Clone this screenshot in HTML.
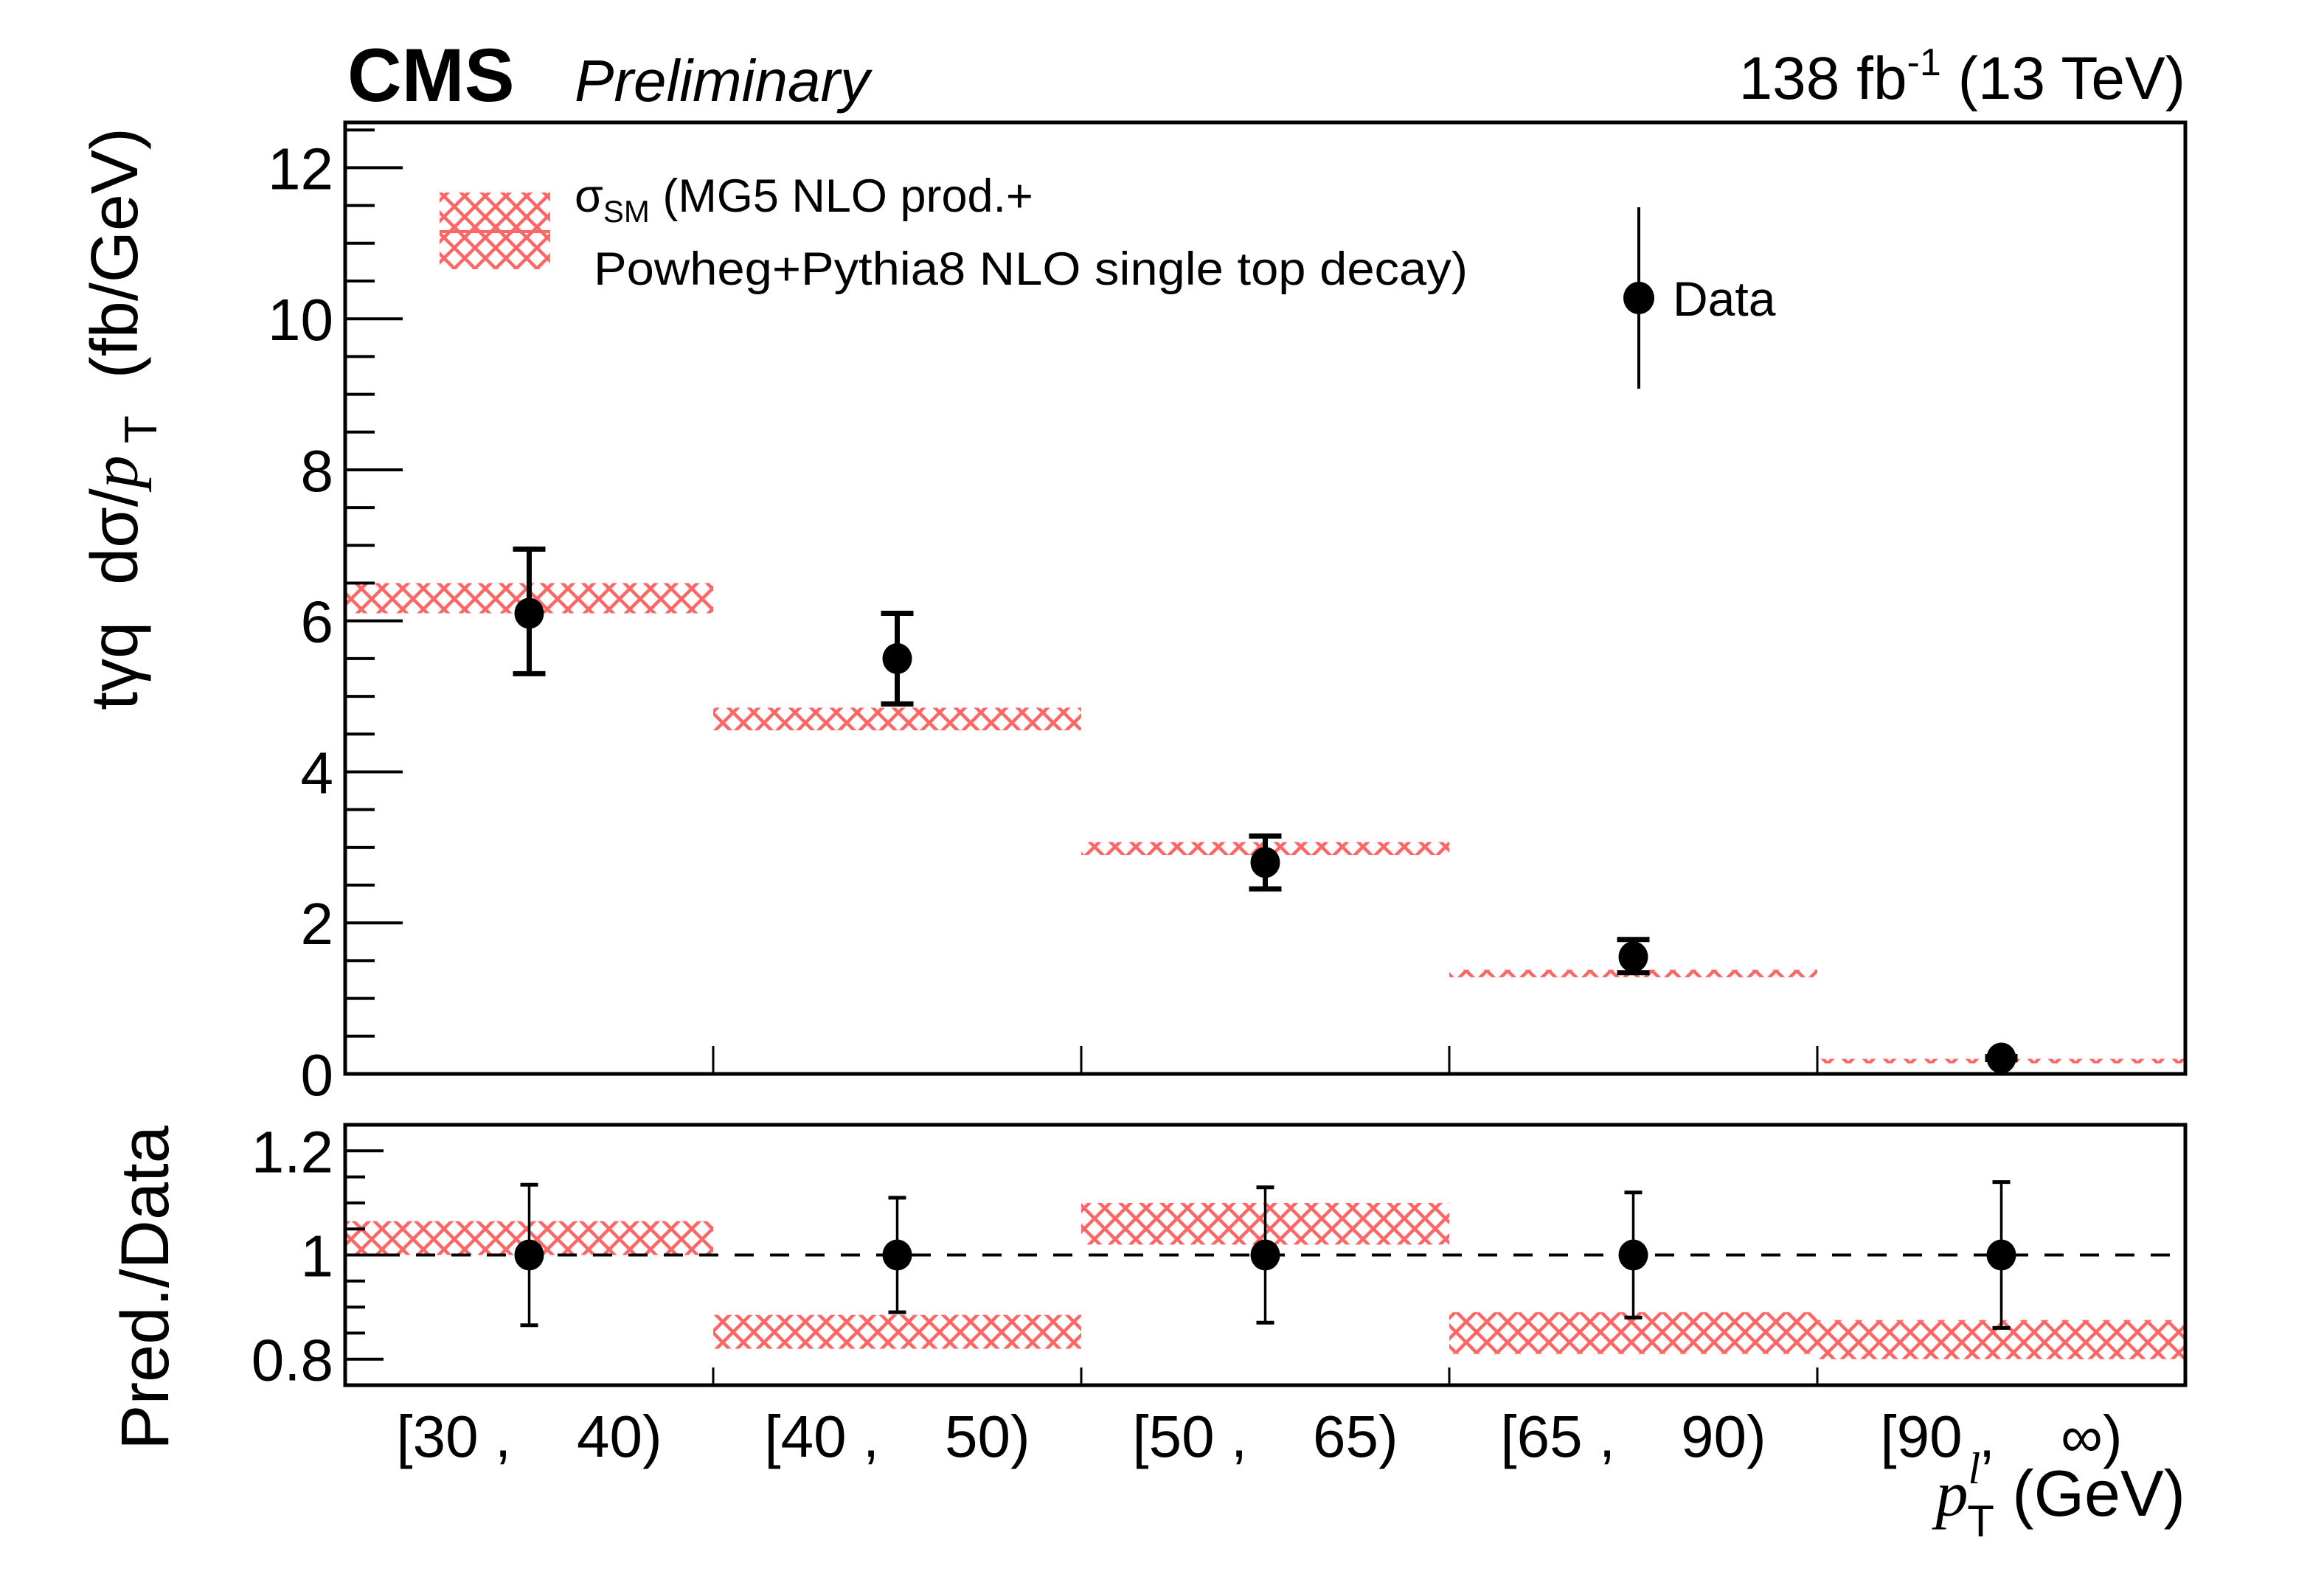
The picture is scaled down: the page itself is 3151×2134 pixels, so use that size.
<!DOCTYPE html>
<html><head><meta charset="utf-8"><style>
html,body{margin:0;padding:0;background:#fff}
svg{display:block}
text{font-family:"Liberation Sans",sans-serif;fill:#000}
</style></head><body>
<svg id="chart" width="3151" height="2134" viewBox="0 0 3151 2134" xmlns="http://www.w3.org/2000/svg">
<defs>
<pattern id="hatch" patternUnits="userSpaceOnUse" width="28" height="28">
<path d="M0 0L28 28M28 0L0 28M-7 21L7 35M21 -7L35 7M-7 7L7 -7M21 35L35 21" stroke="#ff6666" stroke-width="4.5" fill="none"/>
</pattern>
</defs>
<text x="471" y="137" font-size="102" font-weight="bold">CMS</text>
<text x="779" y="137" font-size="80" font-style="italic">Preliminary</text>
<text x="2963" y="134" font-size="82" text-anchor="end">138 fb<tspan dy="-32" font-size="52">-1</tspan><tspan dy="32"> (13 TeV)</tspan></text>
<text transform="translate(186,568) rotate(-90)" font-size="90" text-anchor="middle" xml:space="preserve">tγq  dσ/<tspan font-family="Liberation Serif" font-style="italic">p</tspan><tspan dy="26" font-size="62"> T</tspan><tspan dy="-26">  (fb/GeV)</tspan></text>
<text transform="translate(228,1746) rotate(-90)" font-size="92" text-anchor="middle">Pred./Data</text>
<g id="legend">
<rect x="596" y="261" width="150" height="104" fill="url(#hatch)"/>
<line x1="596" y1="314" x2="746" y2="314" stroke="#ff6666" stroke-width="4"/>
<text x="779" y="287" font-size="63">σ<tspan dy="14" font-size="42">SM</tspan><tspan dy="-14"> (MG5 NLO prod.+</tspan></text>
<text x="805" y="386" font-size="63" textLength="1185" lengthAdjust="spacingAndGlyphs">Powheg+Pythia8 NLO single top decay)</text>
<line x1="2222" y1="281" x2="2222" y2="527" stroke="#000" stroke-width="4"/>
<ellipse cx="2222" cy="404" rx="21" ry="22"/>
<text x="2268" y="428" font-size="66">Data</text>
</g>
<g id="plot"></g>
</svg>
<script>
const binLabels = ["[30 ,    40)", "[40 ,    50)", "[50 ,    65)", "[65 ,    90)", "[90 ,    ∞)"];
const dataVals = [6.1, 5.5, 2.8, 1.55, 0.21];
const dataLo = [5.3, 4.9, 2.45, 1.34, 0.19];
const dataHi = [6.95, 6.1, 3.15, 1.78, 0.23];
const predLo = [6.1, 4.55, 2.9, 1.28, 0.14];
const predHi = [6.5, 4.85, 3.07, 1.38, 0.2];
const ratioVals = [1, 1, 1, 1, 1];
const ratioErrLo = [0.865, 0.89, 0.87, 0.88, 0.86];
const ratioErrHi = [1.135, 1.11, 1.13, 1.12, 1.14];
const ratioPredLo = [1.0, 0.82, 1.02, 0.81, 0.80];
const ratioPredHi = [1.065, 0.885, 1.10, 0.89, 0.875];
const topTicks = [0, 2, 4, 6, 8, 10, 12];
const ratioTicks = [0.8, 1, 1.2];

const NS = "http://www.w3.org/2000/svg";
const g = document.getElementById('plot');
const X0 = 468, X1 = 2963, nb = binLabels.length;
const bw = (X1 - X0) / nb;
const T0 = 166, T1 = 1456, YMAX = 12.6;
const R0 = 1525, R1 = 1878, RMIN = 0.75, RMAX = 1.25;
const xb = i => X0 + i * bw;
const yt = v => T1 - (v / YMAX) * (T1 - T0);
const yr = v => R1 - (v - RMIN) / (RMAX - RMIN) * (R1 - R0);
function mk(tag, attrs) { const e = document.createElementNS(NS, tag); for (const k in attrs) e.setAttribute(k, attrs[k]); g.appendChild(e); return e; }

for (let i = 0; i < nb; i++) {
  const b = mk('rect', {x: xb(i), y: yt(predHi[i]), width: bw, height: yt(predLo[i]) - yt(predHi[i]), fill: 'url(#hatch)'});
  
  
  const r = mk('rect', {x: xb(i), y: yr(ratioPredHi[i]), width: bw, height: yr(ratioPredLo[i]) - yr(ratioPredHi[i]), fill: 'url(#hatch)'});
  
  
}
const dl = mk('line', {x1: X0, x2: X1, y1: yr(1), y2: yr(1), stroke: '#000', 'stroke-width': 4, 'stroke-dasharray': '26 22'});



const f1 = mk('rect', {x: X0, y: T0, width: X1 - X0, height: T1 - T0, fill: 'none', stroke: '#000', 'stroke-width': 5});


const f2 = mk('rect', {x: X0, y: R0, width: X1 - X0, height: R1 - R0, fill: 'none', stroke: '#000', 'stroke-width': 5});



for (let v = 0; v <= YMAX + 1e-6; v += 0.5) {
  const major = Math.abs(v / 2 - Math.round(v / 2)) < 1e-6;
  mk('line', {x1: X0, x2: X0 + (major ? 78 : 40), y1: yt(v), y2: yt(v), stroke: '#000', 'stroke-width': 4});
}
topTicks.forEach(v => {
  const t = mk('text', {x: 452, y: yt(v) + 29, 'font-size': 80, 'text-anchor': 'end'});
  t.textContent = v;
  
  
});
for (let v = 0.75; v <= 1.2501; v += 0.05) {
  const major = Math.abs(v * 5 - Math.round(v * 5)) < 1e-6;
  mk('line', {x1: X0, x2: X0 + (major ? 52 : 27), y1: yr(v), y2: yr(v), stroke: '#000', 'stroke-width': 4});
}
ratioTicks.forEach(v => {
  const t = mk('text', {x: 452, y: yr(v) + 29, 'font-size': 80, 'text-anchor': 'end'});
  t.textContent = v;
  
  
});
for (let i = 1; i < nb; i++) {
  mk('line', {x1: xb(i), x2: xb(i), y1: T1, y2: T1 - 38, stroke: '#000', 'stroke-width': 3});
  mk('line', {x1: xb(i), x2: xb(i), y1: R1, y2: R1 - 24, stroke: '#000', 'stroke-width': 3});
}
binLabels.forEach((s, i) => {
  const t = mk('text', {x: xb(i) + bw / 2, y: 1975, 'font-size': 80, 'text-anchor': 'middle'});
  t.style.whiteSpace = 'pre';
  t.textContent = s;
  
  
});
const xt = mk('text', {x: X1, y: 2055, 'font-size': 88, 'text-anchor': 'end'});
xt.style.whiteSpace = 'pre';
xt.innerHTML = '<tspan font-family="Liberation Serif" font-style="italic">p</tspan><tspan dy="-44" font-size="60" font-family="Liberation Serif" font-style="italic">l</tspan><tspan dx="-18" dy="72" font-size="60">T</tspan><tspan dy="-28"> (GeV)</tspan>';



for (let i = 0; i < nb; i++) {
  const cx = xb(i) + bw / 2;
  mk('line', {x1: cx, x2: cx, y1: yt(dataHi[i]), y2: yt(dataLo[i]), stroke: '#000', 'stroke-width': 7});
  mk('line', {x1: cx - 22, x2: cx + 22, y1: yt(dataHi[i]), y2: yt(dataHi[i]), stroke: '#000', 'stroke-width': 7});
  mk('line', {x1: cx - 22, x2: cx + 22, y1: yt(dataLo[i]), y2: yt(dataLo[i]), stroke: '#000', 'stroke-width': 7});
  const p = mk('ellipse', {cx: cx, cy: yt(dataVals[i]), rx: 20, ry: 21, fill: '#000'});
  
  

  mk('line', {x1: cx, x2: cx, y1: yr(ratioErrHi[i]), y2: yr(ratioErrLo[i]), stroke: '#000', 'stroke-width': 3.5});
  mk('line', {x1: cx - 12, x2: cx + 12, y1: yr(ratioErrHi[i]), y2: yr(ratioErrHi[i]), stroke: '#000', 'stroke-width': 5});
  mk('line', {x1: cx - 12, x2: cx + 12, y1: yr(ratioErrLo[i]), y2: yr(ratioErrLo[i]), stroke: '#000', 'stroke-width': 5});
  const q = mk('ellipse', {cx: cx, cy: yr(ratioVals[i]), rx: 20, ry: 21, fill: '#000'});
  
  
}
</script>
</body></html>
